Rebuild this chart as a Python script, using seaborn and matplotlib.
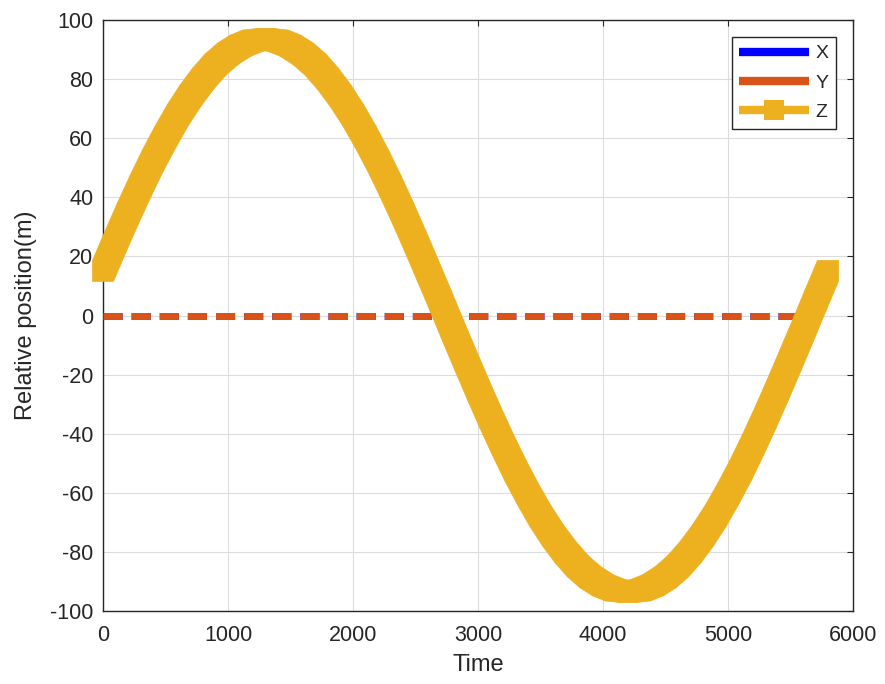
import numpy as np
import pandas as pd
import matplotlib
matplotlib.use("Agg")
import matplotlib.pyplot as plt
import seaborn as sns
from matplotlib.collections import PolyCollection
from matplotlib.lines import Line2D
from matplotlib.transforms import IdentityTransform

# ---- data -------------------------------------------------------------
time = list(range(0, 5801, 100))
time_xy = list(range(0, 5701, 100))
x_pos = [0.0] * len(time_xy)
y_pos = [0.0] * len(time_xy)
z_pos = [15.1, 25.0, 34.6, 43.8, 52.5, 60.5, 67.9, 74.4, 80.1, 84.9,
         88.6, 91.3, 93.0, 93.5, 93.0, 91.3, 88.6, 84.9, 80.1, 74.4,
         67.9, 60.5, 52.5, 43.8, 34.6, 25.0, 15.1, 5.1, -5.1, -15.1,
         -25.0, -34.6, -43.8, -52.5, -60.5, -67.9, -74.4, -80.1, -84.9, -88.6,
         -91.3, -93.0, -93.5, -93.0, -91.3, -88.6, -84.9, -80.1, -74.4, -67.9,
         -60.5, -52.5, -43.8, -34.6, -25.0, -15.1, -5.1, 5.1, 15.1]
series_names = ["X", "Y", "Z"]
x_ticks = [0, 1000, 2000, 3000, 4000, 5000, 6000]
y_ticks = list(range(-100, 101, 20))

df_xy = pd.DataFrame({"Time": time_xy, "X": x_pos, "Y": y_pos})
df_z = pd.DataFrame({"Time": time, "Z": z_pos})

# ---- style ------------------------------------------------------------
sns.set_theme(style="white")
plt.rcParams["font.family"] = ["Liberation Sans", "DejaVu Sans"]
plt.rcParams["axes.unicode_minus"] = False
DARK = "#262626"
C_X, C_Y, C_Z = "#0000FF", "#D95319", "#EDB120"

W, H, DPI = 885, 684, 100
fig = plt.figure(figsize=(W / DPI, H / DPI), dpi=DPI)
ax = fig.add_axes([103 / W, (H - 611) / H, 750 / W, 591 / H])

ax.set_xlim(0, 6000)
ax.set_ylim(-100, 100)
ax.set_xticks(x_ticks)
ax.set_yticks(y_ticks)
ax.grid(True, color="#DCDCDC", linewidth=0.8)
ax.set_axisbelow(True)
for s in ax.spines.values():
    s.set_color(DARK)
    s.set_linewidth(1.0)
ax.tick_params(direction="in", length=4, width=0.8, colors=DARK,
               labelsize=15.5, top=True, right=True, pad=7)
ax.tick_params(axis="x", pad=10)
for lab in ax.get_xticklabels() + ax.get_yticklabels():
    lab.set_color(DARK)

# ---- X and Y: dashed zero lines ---------------------------------------
dash = [2.75, 1.3]
sns.lineplot(data=df_xy, x="Time", y="X", color=C_X, linewidth=5, ax=ax,
             zorder=3)
ax.lines[-1].set_dashes(dash)
ax.lines[-1].set_dash_capstyle("butt")
sns.lineplot(data=df_xy, x="Time", y="Y", color=C_Y, linewidth=5, ax=ax,
             zorder=3)
ax.lines[-1].set_dashes(dash)
ax.lines[-1].set_dash_capstyle("butt")


# ---- Z: thick band swept by square markers along the curve ------------
def hull(points):
    pts = sorted(map(tuple, points))

    def cross(o, a, b):
        return (a[0] - o[0]) * (b[1] - o[1]) - (a[1] - o[1]) * (b[0] - o[0])

    lower, upper = [], []
    for p in pts:
        while len(lower) >= 2 and cross(lower[-2], lower[-1], p) <= 0:
            lower.pop()
        lower.append(p)
    for p in reversed(pts):
        while len(upper) >= 2 and cross(upper[-2], upper[-1], p) <= 0:
            upper.pop()
        upper.append(p)
    return np.array(lower[:-1] + upper[:-1])


half = 10.5  # half side of the square marker, in pixels
disp = ax.transData.transform(np.column_stack([df_z["Time"], df_z["Z"]]))
corner = np.array([[-half, -half], [half, -half], [half, half], [-half, half]])
polys = [hull(np.vstack([p0 + corner, p1 + corner]))
         for p0, p1 in zip(disp[:-1], disp[1:])]
band = PolyCollection(polys, transform=IdentityTransform(), facecolor=C_Z,
                      edgecolor=C_Z, linewidth=0.5, zorder=2.4)
band.set_clip_on(False)
fig.add_artist(band)

ax.set_xlabel("Time", fontsize=17, color=DARK, labelpad=6)
ax.set_ylabel("Relative position(m)", fontsize=17, color=DARK, labelpad=9)

# ---- legend ----------------------------------------------------------
handles = [
    Line2D([], [], color=C_X, linewidth=6, solid_capstyle="butt"),
    Line2D([], [], color=C_Y, linewidth=6, solid_capstyle="butt"),
    Line2D([], [], color=C_Z, linewidth=6, solid_capstyle="butt",
           marker="s", markersize=14, markeredgewidth=0),
]
leg = ax.legend(handles, series_names, loc="upper right",
                bbox_to_anchor=(0.9773, 0.9712), borderaxespad=0,
                fontsize=14, frameon=True, fancybox=False, framealpha=1,
                handlelength=3.6, handletextpad=0.3, labelspacing=0.6,
                borderpad=0.4)
leg.get_frame().set_edgecolor(DARK)
leg.get_frame().set_linewidth(1.0)
for t in leg.get_texts():
    t.set_color(DARK)

fig.savefig("out.png", dpi=DPI)
